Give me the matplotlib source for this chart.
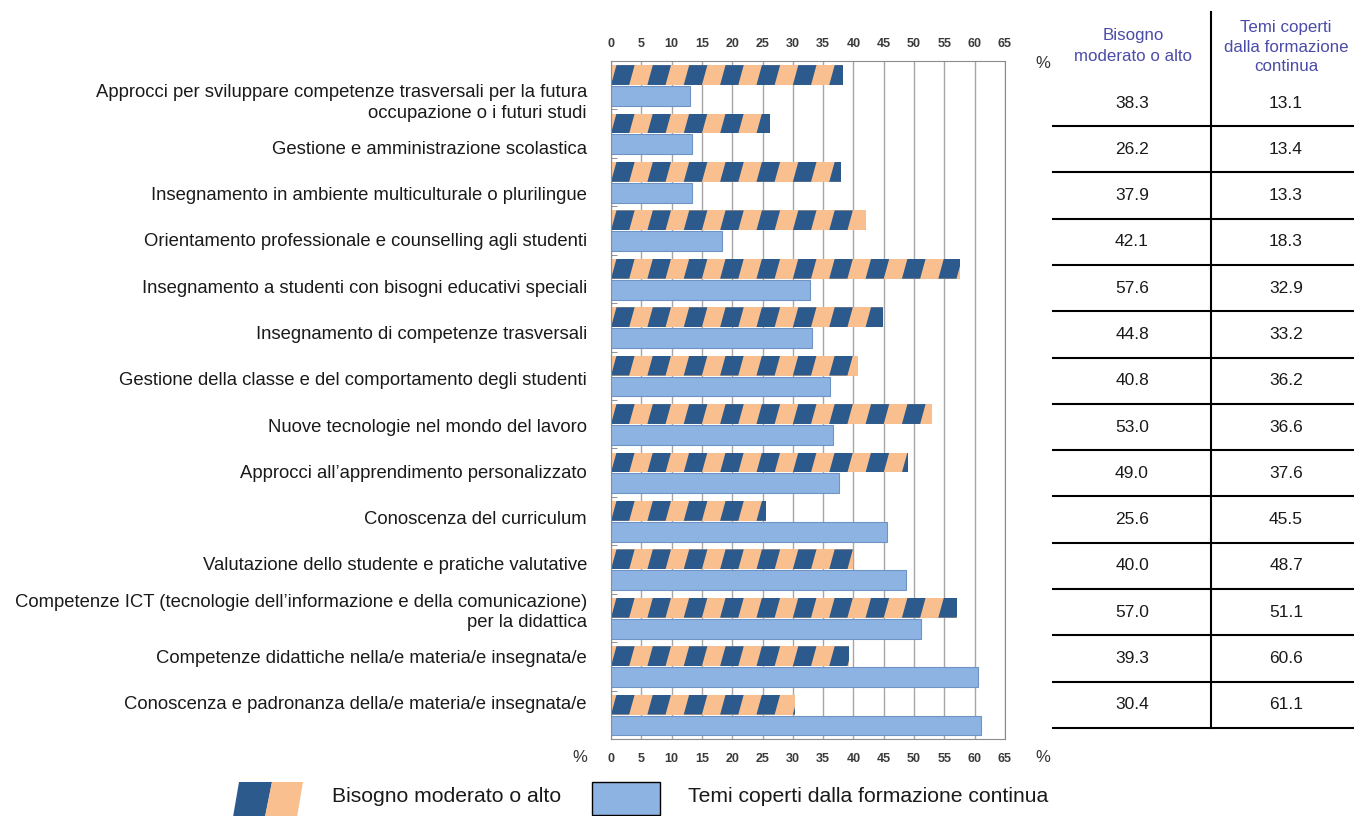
import matplotlib
matplotlib.use("Agg")
import matplotlib.pyplot as plt
from matplotlib.patches import Polygon, Rectangle

plt.rcParams["font.family"] = ["Liberation Sans", "DejaVu Sans"]

categories = [
    "Approcci per sviluppare competenze trasversali per la futura\noccupazione o i futuri studi",
    "Gestione e amministrazione scolastica",
    "Insegnamento in ambiente multiculturale o plurilingue",
    "Orientamento professionale e counselling agli studenti",
    "Insegnamento a studenti con bisogni educativi speciali",
    "Insegnamento di competenze trasversali",
    "Gestione della classe e del comportamento degli studenti",
    "Nuove tecnologie nel mondo del lavoro",
    "Approcci all\u2019apprendimento personalizzato",
    "Conoscenza del curriculum",
    "Valutazione dello studente e pratiche valutative",
    "Competenze ICT (tecnologie dell\u2019informazione e della comunicazione)\nper la didattica",
    "Competenze didattiche nella/e materia/e insegnata/e",
    "Conoscenza e padronanza della/e materia/e insegnata/e",
]
need = [38.3, 26.2, 37.9, 42.1, 57.6, 44.8, 40.8, 53.0, 49.0, 25.6, 40.0, 57.0, 39.3, 30.4]
covered = [13.1, 13.4, 13.3, 18.3, 32.9, 33.2, 36.2, 36.6, 37.6, 45.5, 48.7, 51.1, 60.6, 61.1]
xticks = list(range(0, 70, 5))

DARK = "#2C5A8C"
PEACH = "#F9BF8F"
LIGHT = "#8DB3E2"
HEAD = "#4B4BA8"
TXT = "#1a1a1a"
TICK = "#3a3a3a"

W, H = 1354, 816
fig = plt.figure(figsize=(W / 100, H / 100), dpi=100)

# overlay in pixel coordinates for labels, table and legend
ov = fig.add_axes([0, 0, 1, 1])
ov.set_xlim(0, W)
ov.set_ylim(H, 0)
ov.axis("off")

ax = fig.add_axes([611 / W, 1 - 739 / H, (1005 - 611) / W, (739 - 61) / H])
n = len(categories)
ys = list(range(n))
bh = 0.41
d_off, l_off = -0.21, 0.22

ax.set_xlim(0, 65)
ax.set_ylim(n - 0.5, -0.5)
ax.set_xticks(xticks)
ax.set_yticks([])
ax.set_yticks([i + 0.5 for i in range(n - 1)], minor=True)
ax.tick_params(axis="y", which="minor", length=4, color="#808080", direction="in")
ax.tick_params(axis="x", length=0, labelsize=9, labelcolor=TICK, pad=10)
for lab in ax.get_xticklabels():
    lab.set_fontweight("bold")
top = ax.secondary_xaxis("top")
top.set_xticks(xticks)
top.tick_params(length=0, labelsize=9, labelcolor=TICK, pad=8)
for lab in top.get_xticklabels():
    lab.set_fontweight("bold")
top.spines["top"].set_visible(False)
ax.grid(axis="x", color="#A6A6A6", linewidth=1.0)
ax.set_axisbelow(True)
for s in ax.spines.values():
    s.set_color("#8C8C8C")

# striped bars: peach bar with dark slanted stripes clipped to it
period, slant = 6.0, 0.9
for y, v in zip(ys, need):
    yc = y + d_off
    bars = ax.barh(yc, v, height=bh, color=PEACH, linewidth=0)
    rect = bars.patches[0]
    y_bot, y_top = yc + bh / 2, yc - bh / 2
    x0 = -period
    while x0 < v + period:
        poly = Polygon([(x0, y_bot), (x0 + period / 2, y_bot),
                        (x0 + period / 2 + slant, y_top), (x0 + slant, y_top)],
                       closed=True, facecolor=DARK, linewidth=0, zorder=rect.get_zorder() + 0.1)
        ax.add_patch(poly)
        poly.set_clip_path(rect)
        x0 += period

ax.barh([y + l_off for y in ys], covered, height=bh, color=LIGHT, edgecolor="#6E93C4", linewidth=0.8)

# labels and table
row0, step = 103, 46.3
for i, cat in enumerate(categories):
    yc = row0 + step * i
    ov.text(587, yc, cat, ha="right", va="center", fontsize=13.3, linespacing=1.25, color=TXT)
    ov.text(1132, yc, f"{need[i]:.1f}", ha="center", va="center", fontsize=12.5, color=TXT)
    ov.text(1286, yc, f"{covered[i]:.1f}", ha="center", va="center", fontsize=12.5, color=TXT)
    ly = 126 + step * i
    ov.plot([1053, W], [ly, ly], color="black", linewidth=1.5)
ov.plot([1211, 1211], [12, 126 + step * (n - 1)], color="black", linewidth=1.5)

ov.text(1133, 46, "Bisogno\nmoderato o alto", ha="center", va="center", fontsize=12.2,
        color=HEAD, linespacing=1.45)
ov.text(1286, 47, "Temi coperti\ndalla formazione\ncontinua", ha="center", va="center",
        fontsize=12.2, color=HEAD, linespacing=1.4)
ov.text(1043, 63, "%", ha="center", va="center", fontsize=12, color="#333333")
ov.text(580, 758, "%", ha="center", va="center", fontsize=12, color="#333333")
ov.text(1043, 758, "%", ha="center", va="center", fontsize=12, color="#333333")

# legend
ov.add_patch(Polygon([(233, 817), (265, 817), (272, 782), (239, 782)], closed=True,
                     facecolor=DARK, linewidth=0))
ov.add_patch(Polygon([(265, 817), (297, 817), (303, 782), (272, 782)], closed=True,
                     facecolor=PEACH, linewidth=0))
ov.text(332, 796, "Bisogno moderato o alto", ha="left", va="center", fontsize=15.2, color=TXT)
ov.add_patch(Rectangle((592, 782), 68, 33, facecolor=LIGHT, edgecolor="black", linewidth=1))
ov.text(688, 796, "Temi coperti dalla formazione continua", ha="left", va="center",
        fontsize=15.2, color=TXT)

fig.savefig("out.png", dpi=100)
